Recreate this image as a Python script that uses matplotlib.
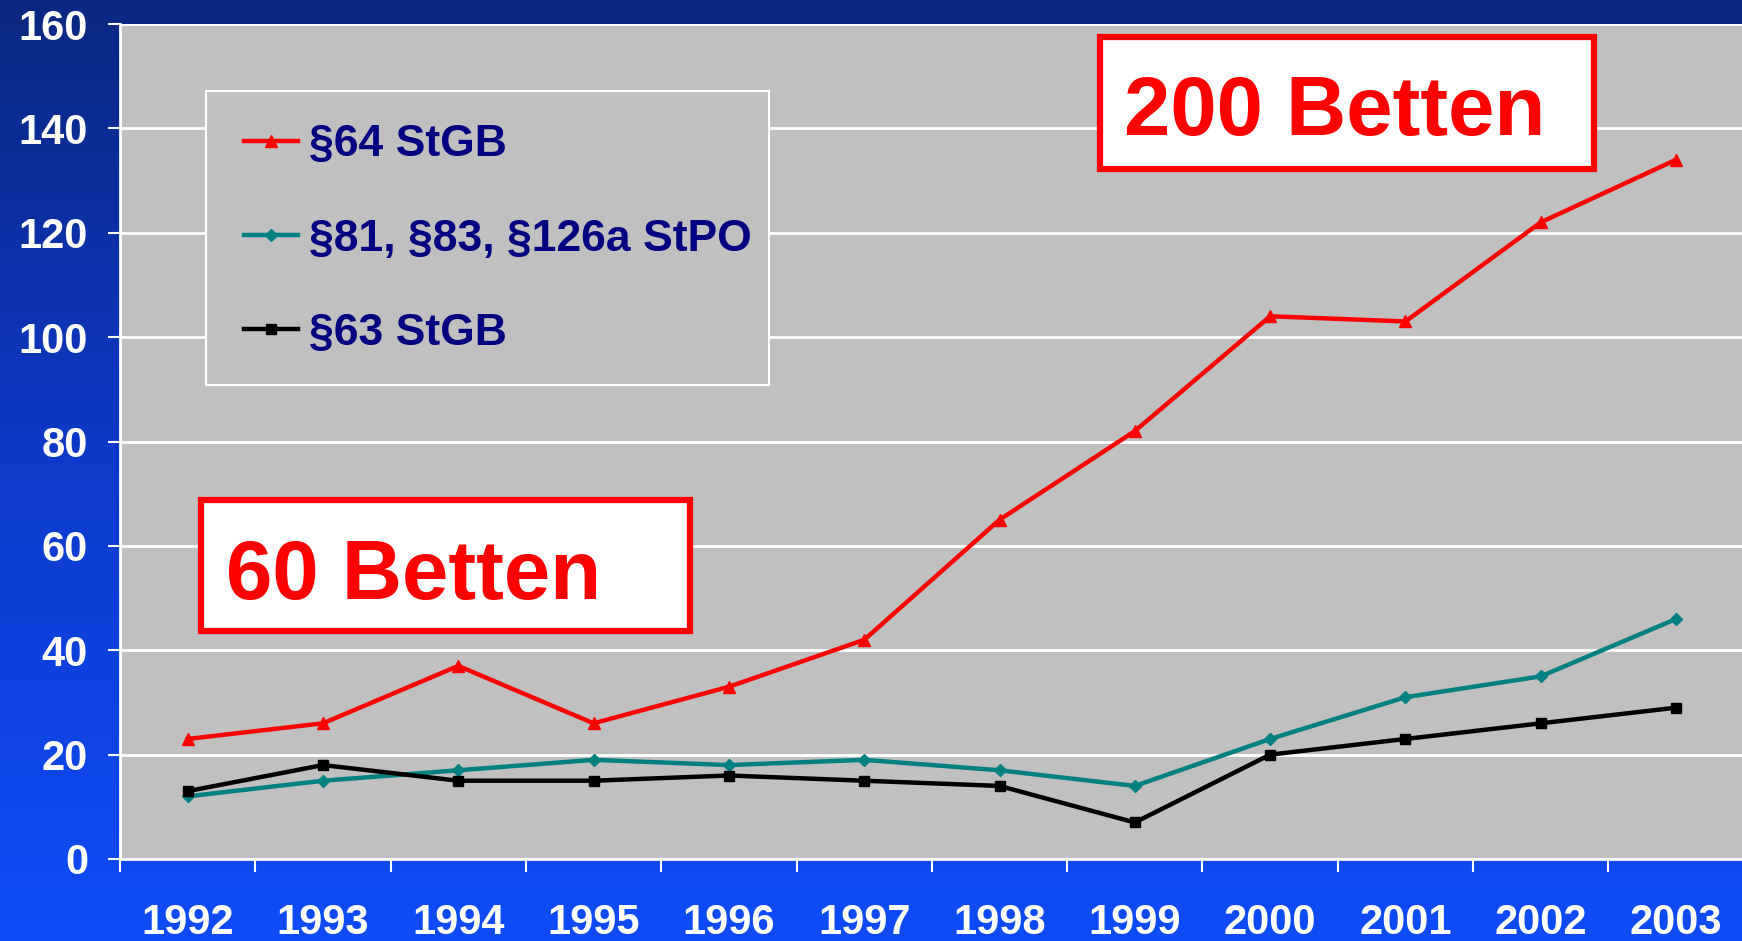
import numpy as np
import matplotlib.pyplot as plt
from matplotlib.patches import Rectangle
from matplotlib.colors import LinearSegmentedColormap

plt.rcParams['font.family'] = ['Liberation Sans', 'DejaVu Sans']
plt.rcParams['font.weight'] = 'bold'

years = ['1992', '1993', '1994', '1995', '1996', '1997',
         '1998', '1999', '2000', '2001', '2002', '2003']
stgb64 = [23, 26, 37, 26, 33, 42, 65, 82, 104, 103, 122, 134]
stpo = [12, 15, 17, 19, 18, 19, 17, 14, 23, 31, 35, 46]
stgb63 = [13, 18, 15, 15, 16, 15, 14, 7, 20, 23, 26, 29]
labels = ['§64 StGB', '§81, §83, §126a StPO', '§63 StGB']
box_texts = ['200 Betten', '60 Betten']

W, H = 1742, 941
fig = plt.figure(figsize=(W / 100, H / 100), dpi=100)


def fx(x):
    return x / W


def fy(y):
    return 1 - y / H


# gradient background
bg = fig.add_axes([0, 0, 1, 1], zorder=-10)
cmap = LinearSegmentedColormap.from_list('bg', ['#0A2780', '#0D3ACB', '#0F4CF8'])
bg.imshow(np.linspace(0, 1, 256).reshape(-1, 1), aspect='auto', cmap=cmap,
          extent=[0, 1, 0, 1])
bg.axis('off')

left, bottom, top = fx(120), fy(859), fy(24)
ax = fig.add_axes([left, bottom, 1 - left + 0.001, top - bottom])
ax.set_facecolor('#C0C0C0')

x = np.arange(len(years))
l1, = ax.plot(x, stgb64, color='#FF0000', lw=3.2, marker='^', ms=9, zorder=4)
l2, = ax.plot(x, stpo, color='#008080', lw=3.2, marker='D', ms=6.5, zorder=4)
l3, = ax.plot(x, stgb63, color='#000000', lw=3.2, marker='s', ms=7.5, zorder=4)

ax.set_xlim(-0.5, len(years) - 0.5)
ax.set_ylim(0, 160)
ax.set_yticks(range(0, 161, 20))
ax.set_xticks(x)
ax.set_xticklabels(years)
ax.set_xticks(np.arange(-0.5, len(years)), minor=True)
ax.grid(axis='y', color='white', lw=2)
ax.set_axisbelow(True)

for s in ['top', 'right']:
    ax.spines[s].set_visible(False)
for s in ['left', 'bottom']:
    ax.spines[s].set_color('white')
    ax.spines[s].set_linewidth(2)

ax.tick_params(axis='y', colors='white', length=9, width=1.5, pad=14,
               labelsize=30)
ax.tick_params(axis='x', which='major', length=0, colors='white', pad=32,
               labelsize=30)
ax.tick_params(axis='x', which='minor', length=9, width=1.5, color='white')
for t in ax.get_xticklabels() + ax.get_yticklabels():
    t.set_fontweight('bold')

# legend frame
ax.add_patch(Rectangle((fx(206), fy(385)), fx(769 - 206), (385 - 91) / H,
                       transform=fig.transFigure, facecolor='#C0C0C0',
                       edgecolor='white', lw=1.5, zorder=3))
leg = ax.legend([l1, l2, l3], labels, loc='upper left',
                bbox_to_anchor=(fx(222), fy(102)),
                bbox_transform=fig.transFigure, frameon=False,
                fontsize=32, handlelength=1.2, handletextpad=0.25,
                labelspacing=1.2, borderpad=0)
leg.set_zorder(6)
for t in leg.get_texts():
    t.set_color('#000080')
    t.set_fontweight('bold')

# annotation boxes
boxes = [(1100, 37, 1594, 169, 1124, 135), (201, 500, 690, 631, 226, 599)]
for txt, (x0, y0, x1, y1, tx, ty) in zip(box_texts, boxes):
    fig.add_artist(Rectangle((fx(x0), fy(y1)), fx(x1 - x0), (y1 - y0) / H,
                             transform=fig.transFigure, facecolor='white',
                             edgecolor='#FF0000', lw=4.5, zorder=7))
    fig.text(fx(tx), fy(ty), txt, color='#FF0000', fontsize=60,
             fontweight='bold', va='baseline', ha='left', zorder=8)

fig.savefig('out.png', dpi=100)
